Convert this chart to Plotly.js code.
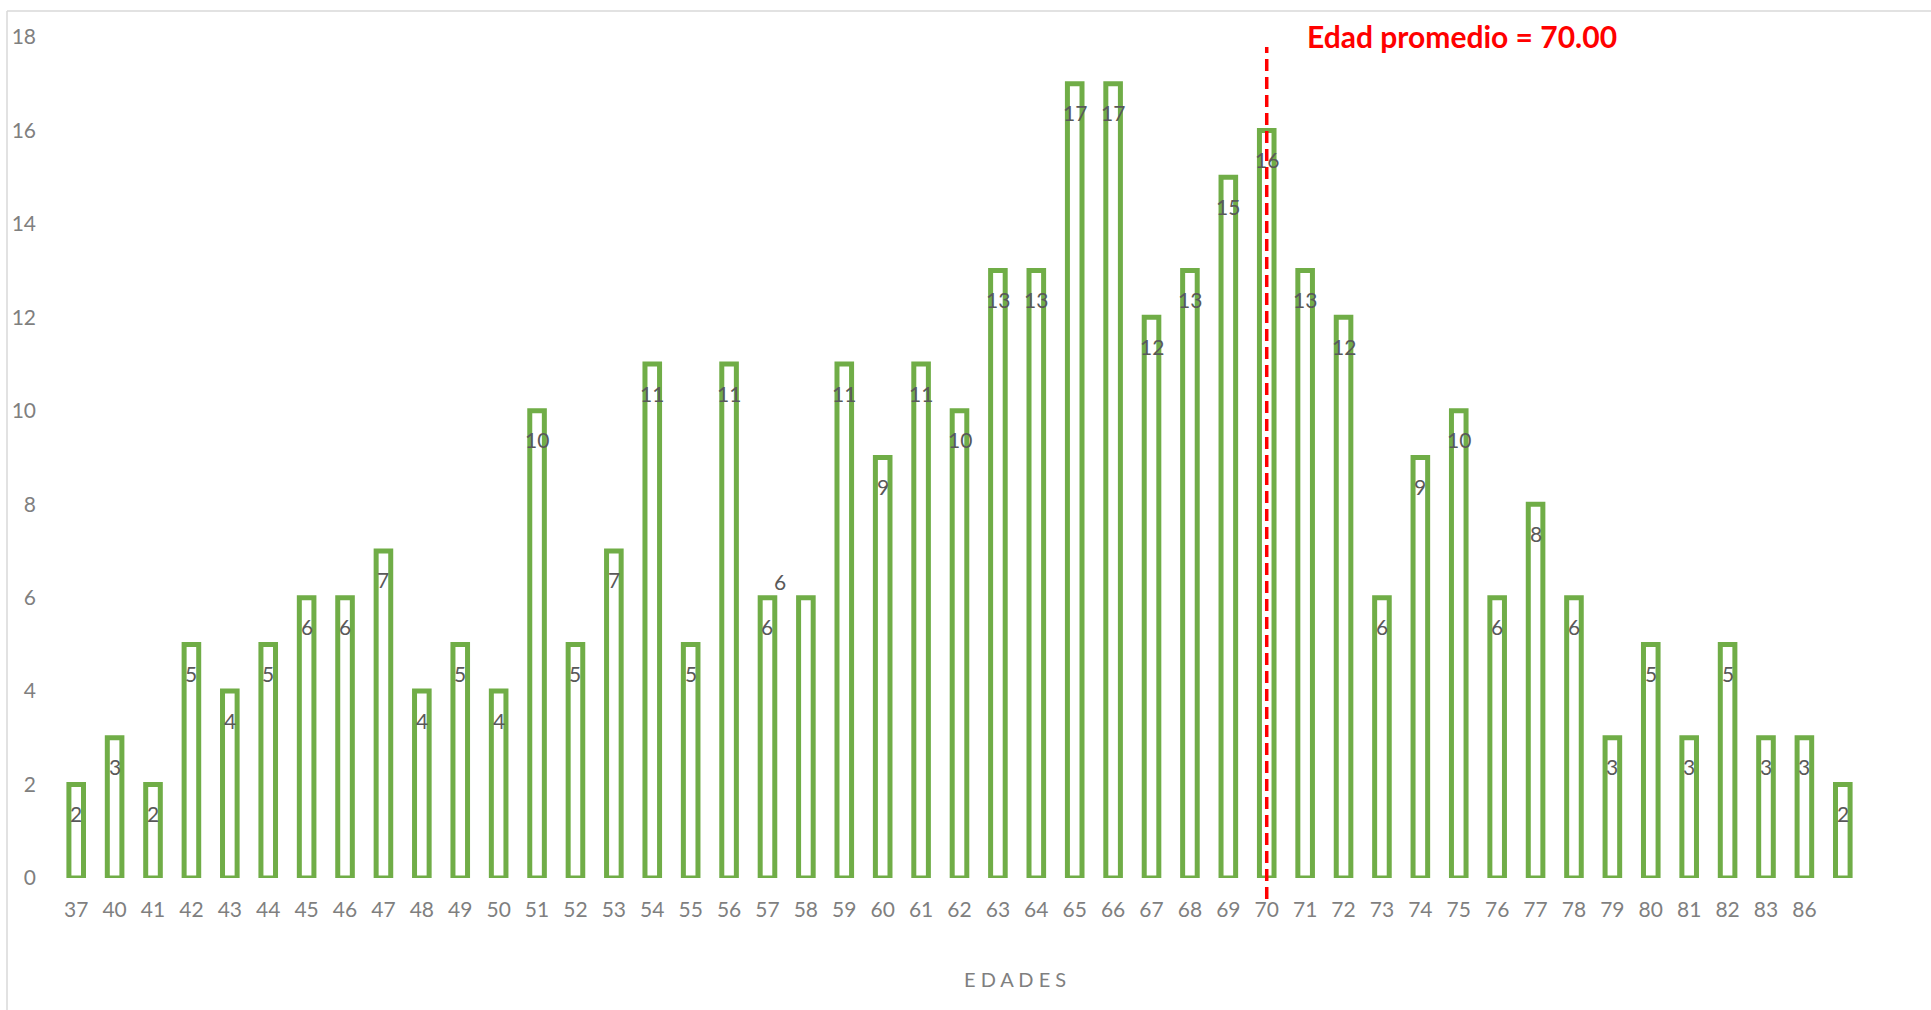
<!DOCTYPE html>
<html>
<head>
<meta charset="utf-8">
<script src="https://cdn.plot.ly/plotly-3.0.1.min.js"></script>
<style>
  html, body { margin: 0; padding: 0; background: #ffffff; }
  #chart { width: 1931px; height: 1010px; }
</style>
</head>
<body>
<div id="chart"></div>
<script>
// ---- data ----
const edades = ["37","40","41","42","43","44","45","46","47","48","49","50","51","52","53","54","55","56","57","58","59","60","61","62","63","64","65","66","67","68","69","70","71","72","73","74","75","76","77","78","79","80","81","82","83","86"," "];
const frecuencias = [2,3,2,5,4,5,6,6,7,4,5,4,10,5,7,11,5,11,6,6,11,9,11,10,13,13,17,17,12,13,15,16,13,12,6,9,10,6,8,6,3,5,3,5,3,3,2];
const yTicks = [0,2,4,6,8,10,12,14,16,18];
const edadPromedio = 70.00;
const tituloX = "E D A D E S";

// ---- style ----
const green = "#70AD47";
const font = "Lato, 'Open Sans', sans-serif";

const barTrace = {
  type: "bar",
  x: edades,
  y: frecuencias,
  width: 0.38,
  marker: { color: "rgba(255,255,255,1)", line: { color: green, width: 5 } },
  hoverinfo: "x+y",
  showlegend: false
};

// category index of the mean age (category axis positions are indices)
const idxPromedio = edades.indexOf(String(Math.round(edadPromedio)));

// data labels
const annotations = edades.map((c, i) => {
  const special = (c === "58");
  return {
    x: i, y: frecuencias[i], xref: "x", yref: "y",
    text: String(frecuencias[i]), showarrow: false,
    font: { family: font, size: 21, color: "#595959" },
    xshift: special ? -26 : 0,
    yshift: special ? 16 : -29
  };
});

// mean label
annotations.push({
  x: idxPromedio, xref: "x", xshift: 38, xanchor: "left",
  y: 1.0, yref: "paper", yanchor: "middle", yshift: 1,
  text: "<b>Edad promedio = " + edadPromedio.toFixed(2) + "</b>",
  showarrow: false,
  font: { family: font, size: 30, color: "#FF0000" }
});

// x axis title
annotations.push({
  x: 0.531, xref: "paper", y: -0.12, yref: "paper",
  xanchor: "center", yanchor: "middle",
  text: tituloX, showarrow: false,
  font: { family: font, size: 20, color: "#7F7F7F" }
});

const shapes = [
  // mean line
  { type: "line", xref: "x", yref: "paper", x0: idxPromedio, x1: idxPromedio,
    y0: -0.025, y1: 0.988, line: { color: "#FF0000", width: 3.5, dash: "12px,6px" } },
  // chart frame (top and left edges)
  { type: "line", xref: "paper", yref: "paper", x0: -0.0277, x1: 1.1, y0: 1.031, y1: 1.031,
    line: { color: "#D9D9D9", width: 1.5 } },
  { type: "line", xref: "paper", yref: "paper", x0: -0.0277, x1: -0.0277, y0: 1.031, y1: -0.2,
    line: { color: "#D9D9D9", width: 1.5 } }
];

const layout = {
  width: 1931, height: 1010,
  margin: { l: 57, r: 69, t: 37, b: 132 },
  paper_bgcolor: "#ffffff", plot_bgcolor: "#ffffff",
  font: { family: font, color: "#7F7F7F" },
  xaxis: {
    type: "category",
    showgrid: false, zeroline: false, showline: false, ticks: "",
    tickfont: { family: font, size: 21, color: "#7F7F7F" },
    ticklabelstandoff: 17,
    range: [-0.5, edades.length - 0.5]
  },
  yaxis: {
    range: [0, 18], tickvals: yTicks,
    showgrid: false, zeroline: false, showline: false, ticks: "",
    tickfont: { family: font, size: 21, color: "#7F7F7F" },
    ticklabelstandoff: 20
  },
  annotations: annotations,
  shapes: shapes,
  showlegend: false
};

Plotly.newPlot("chart", [barTrace], layout, { displayModeBar: false, responsive: false });
</script>
</body>
</html>
